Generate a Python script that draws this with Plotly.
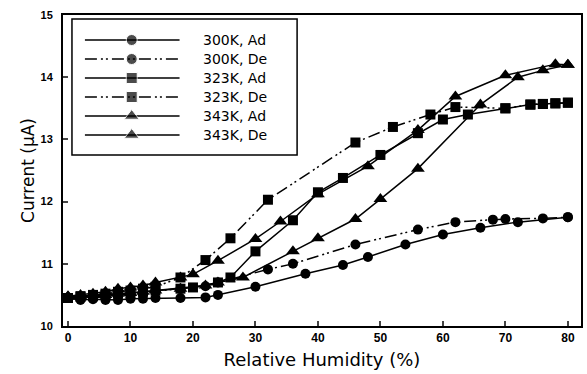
import plotly.graph_objects as go

# ---------------- data ----------------
x_300_ad = [0, 2, 4, 6, 8, 10, 12, 14, 18, 22, 24, 30, 38, 44, 48, 54, 60, 66, 72, 80]
y_300_ad = [10.45, 10.42, 10.43, 10.42, 10.42, 10.44, 10.44, 10.45, 10.45, 10.46, 10.5, 10.63,
            10.84, 10.98, 11.11, 11.31, 11.47, 11.58, 11.67, 11.75]

x_300_de = [0, 2, 4, 6, 8, 10, 12, 14, 18, 22, 24, 32, 36, 46, 56, 62, 68, 70, 76, 80]
y_300_de = [10.46, 10.45, 10.47, 10.48, 10.5, 10.52, 10.54, 10.56, 10.6, 10.64, 10.7, 10.91,
            11.0, 11.31, 11.55, 11.67, 11.71, 11.72, 11.73, 11.75]

x_323_ad = [0, 2, 4, 6, 8, 10, 12, 14, 18, 20, 24, 26, 30, 36, 40, 44, 50, 56, 60, 64, 70, 74, 76, 78, 80]
y_323_ad = [10.45, 10.47, 10.48, 10.5, 10.52, 10.53, 10.55, 10.57, 10.6, 10.62, 10.7, 10.78, 11.2,
            11.7, 12.15, 12.38, 12.75, 13.1, 13.32, 13.4, 13.5, 13.56, 13.57, 13.58, 13.59]

x_323_de = [0, 2, 4, 6, 8, 10, 12, 14, 18, 22, 26, 32, 46, 52, 58, 62, 70, 74, 76, 78, 80]
y_323_de = [10.45, 10.48, 10.5, 10.52, 10.55, 10.57, 10.6, 10.63, 10.78, 11.06, 11.41, 12.03,
            12.95, 13.2, 13.4, 13.52, 13.5, 13.56, 13.57, 13.58, 13.59]

x_343_ad = [0, 2, 4, 6, 8, 10, 12, 14, 18, 22, 24, 28, 36, 40, 46, 50, 56, 66, 72, 76, 80]
y_343_ad = [10.47, 10.48, 10.5, 10.5, 10.52, 10.53, 10.55, 10.57, 10.6, 10.65, 10.7, 10.78, 11.2,
            11.41, 11.72, 12.04, 12.53, 13.56, 14.0, 14.11, 14.2]

x_343_de = [0, 2, 4, 6, 8, 10, 12, 14, 18, 20, 24, 30, 34, 40, 48, 56, 62, 70, 78, 80]
y_343_de = [10.48, 10.5, 10.52, 10.55, 10.6, 10.62, 10.65, 10.7, 10.78, 10.83, 11.05, 11.4,
            11.68, 12.12, 12.57, 13.15, 13.69, 14.03, 14.21, 14.2]

series_names = ["300K, Ad", "300K, De", "323K, Ad", "323K, De", "343K, Ad", "343K, De"]

x_ticks = [0, 10, 20, 30, 40, 50, 60, 70, 80]
y_ticks = [10, 11, 12, 13, 14, 15]

# ---------------- styles ----------------
DDOT = "12px,4px,2px,3px,2px,4px"
styles = [
    dict(symbol="circle", size=10, lsize=11, dash="solid"),
    dict(symbol="circle", size=10, lsize=11, dash=DDOT),
    dict(symbol="square", size=10, lsize=11, dash="solid"),
    dict(symbol="square", size=10, lsize=11, dash=DDOT),
    dict(symbol="triangle-up", size=12, lsize=13, dash="solid"),
    dict(symbol="triangle-up", size=12, lsize=13, dash="solid"),
]
xs = [x_300_ad, x_300_de, x_323_ad, x_323_de, x_343_ad, x_343_de]
ys = [y_300_ad, y_300_de, y_323_ad, y_323_de, y_343_ad, y_343_de]

fig = go.Figure()
for name, xv, yv, st in zip(series_names, xs, ys, styles):
    fig.add_trace(go.Scatter(
        x=xv, y=yv, mode="lines+markers", name=name, showlegend=False,
        line=dict(color="black", width=1.5, dash=st["dash"]),
        marker=dict(symbol=st["symbol"], size=st["size"], color="black"),
    ))

# ---------------- custom legend (overlay axes in plot-fraction units) ----------------
W, H = 587, 374
L, R, T, B = 63, 4, 15, 48
pw, ph = W - L - R, H - T - B

def px_x(p):
    return (p - L) / pw

def px_y(p):
    return (H - B - p) / ph

entry_y = [40, 59, 78, 97, 116, 135]
for name, st, ey in zip(series_names, styles, entry_y):
    fig.add_trace(go.Scatter(
        x=[px_x(85), px_x(132), px_x(180)], y=[px_y(ey)] * 3,
        xaxis="x2", yaxis="y2", mode="lines+markers", showlegend=False,
        hoverinfo="skip", cliponaxis=False,
        line=dict(color="black", width=1.5, dash=st["dash"]),
        marker=dict(symbol=st["symbol"], size=[0, st["lsize"], 0], color="black"),
    ))
    fig.add_annotation(
        x=px_x(202), y=px_y(ey), xref="paper", yref="paper",
        text=name, showarrow=False, xanchor="left", yanchor="middle",
        font=dict(family="DejaVu Sans", size=14, color="black"),
    )

fig.add_shape(type="rect", xref="paper", yref="paper",
              x0=px_x(72), x1=px_x(298), y0=px_y(155), y1=px_y(19),
              line=dict(color="black", width=1.5), fillcolor="rgba(0,0,0,0)")

fig.update_layout(
    width=W, height=H,
    margin=dict(l=L, r=R, t=T, b=B),
    paper_bgcolor="white", plot_bgcolor="white",
    font=dict(family="Liberation Sans", color="black"),
    xaxis=dict(
        range=[-0.8, 82.1], tickvals=x_ticks, ticks="inside", ticklen=5, tickwidth=1.5,
        showline=True, linecolor="black", linewidth=2, mirror=True, showgrid=False, zeroline=False,
        tickfont=dict(size=12, family="Liberation Sans", weight="bold"),
        title=dict(text="Relative Humidity (%)", standoff=9,
                   font=dict(size=18, family="DejaVu Sans")),
    ),
    yaxis=dict(
        range=[10, 15], tickvals=y_ticks, ticks="inside", ticklen=5, tickwidth=1.5,
        showline=True, linecolor="black", linewidth=2, mirror=True, showgrid=False, zeroline=False,
        tickfont=dict(size=11, family="Liberation Sans", weight="bold"), ticklabelstandoff=6,
        title=dict(text="Current (μA)", standoff=2,
                   font=dict(size=17, family="DejaVu Sans")),
    ),
    xaxis2=dict(range=[0, 1], overlaying="x", visible=False, fixedrange=True),
    yaxis2=dict(range=[0, 1], overlaying="y", visible=False, fixedrange=True),
)

fig.write_html("out.html")
